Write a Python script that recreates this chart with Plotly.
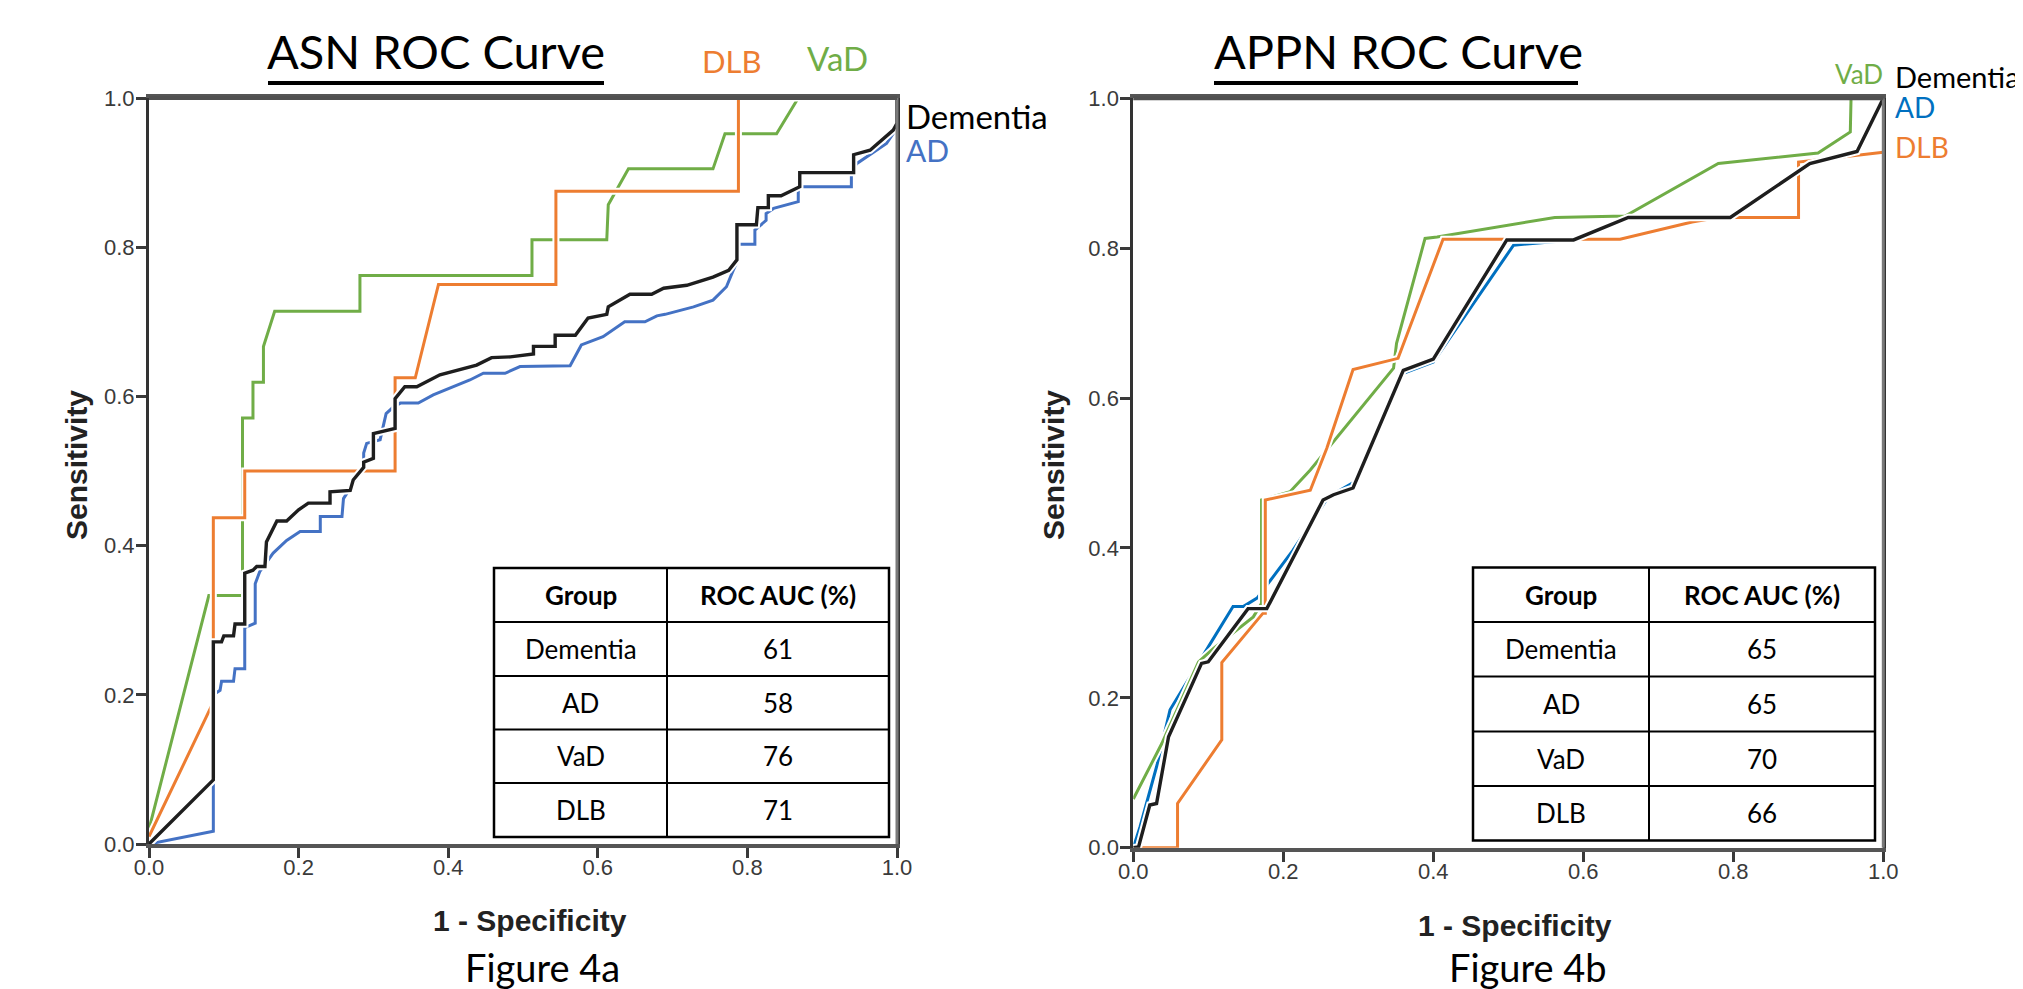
import plotly.graph_objects as go

W, H = 2023, 989
OFF = 8  # page body margin of the browser

# ---------------- data ----------------
tick_vals = [0.0, 0.2, 0.4, 0.6, 0.8, 1.0]
tick_text = ["0.0", "0.2", "0.4", "0.6", "0.8", "1.0"]

# ASN ROC curves (x = 1 - specificity, y = sensitivity)
asn_dementia_x = [0, 0.086, 0.086, 0.097, 0.1, 0.113, 0.115, 0.128, 0.128, 0.139, 0.144, 0.155, 0.157, 0.171,
                  0.184, 0.2, 0.213, 0.242, 0.242, 0.269, 0.273, 0.287, 0.287, 0.3, 0.3, 0.329, 0.329, 0.342,
                  0.358, 0.389, 0.438, 0.458, 0.483, 0.514, 0.514, 0.543, 0.543, 0.57, 0.587, 0.612, 0.614,
                  0.643, 0.672, 0.688, 0.719, 0.754, 0.775, 0.786, 0.786, 0.812, 0.814, 0.828, 0.828, 0.845,
                  0.87, 0.87, 0.942, 0.942, 0.964, 0.995, 1.0, 1.0]
asn_dementia_y = [0, 0.086, 0.271, 0.271, 0.279, 0.279, 0.295, 0.295, 0.363, 0.367, 0.372, 0.372, 0.405, 0.433,
                  0.433, 0.448, 0.457, 0.457, 0.472, 0.474, 0.488, 0.505, 0.512, 0.517, 0.55, 0.557, 0.597, 0.613,
                  0.613, 0.629, 0.642, 0.652, 0.653, 0.657, 0.667, 0.667, 0.682, 0.682, 0.705, 0.71, 0.72,
                  0.737, 0.737, 0.745, 0.749, 0.76, 0.769, 0.783, 0.83, 0.83, 0.853, 0.853, 0.869, 0.869,
                  0.881, 0.9, 0.9, 0.924, 0.93, 0.957, 0.966, 1.0]

asn_ad_x = [0, 0.082, 0.086, 0.086, 0.095, 0.097, 0.113, 0.115, 0.128, 0.128, 0.142, 0.142, 0.148, 0.166, 0.184,
            0.202, 0.229, 0.229, 0.258, 0.26, 0.273, 0.287, 0.287, 0.291, 0.309, 0.317, 0.327, 0.336, 0.36,
            0.38, 0.429, 0.447, 0.476, 0.496, 0.563, 0.578, 0.607, 0.636, 0.663, 0.679, 0.69, 0.728, 0.754,
            0.772, 0.781, 0.786, 0.786, 0.81, 0.81, 0.825, 0.825, 0.835, 0.868, 0.868, 0.939, 0.939, 0.946,
            0.986, 1.0, 1.0]
asn_ad_y = [0, 0.017, 0.017, 0.2, 0.206, 0.218, 0.218, 0.235, 0.235, 0.29, 0.296, 0.349, 0.365, 0.39, 0.407,
            0.419, 0.419, 0.439, 0.439, 0.463, 0.484, 0.505, 0.524, 0.537, 0.542, 0.577, 0.586, 0.591, 0.591,
            0.602, 0.622, 0.631, 0.631, 0.64, 0.641, 0.669, 0.68, 0.7, 0.7, 0.708, 0.71, 0.72, 0.729,
            0.747, 0.769, 0.78, 0.804, 0.804, 0.823, 0.836, 0.845, 0.852, 0.861, 0.881, 0.881, 0.901, 0.912,
            0.939, 0.96, 1.0]

asn_vad_x = [0, 0.08, 0.125, 0.125, 0.139, 0.139, 0.153, 0.153, 0.168, 0.282, 0.282, 0.512, 0.512, 0.612,
             0.614, 0.641, 0.754, 0.770, 0.839, 0.868, 1.0]
asn_vad_y = [0.02, 0.333, 0.333, 0.571, 0.571, 0.619, 0.619, 0.667, 0.714, 0.714, 0.762, 0.762, 0.81, 0.81,
             0.857, 0.905, 0.905, 0.952, 0.952, 1.0, 1.0]

asn_dlb_x = [0, 0.086, 0.086, 0.128, 0.128, 0.329, 0.329, 0.356, 0.387, 0.544, 0.544, 0.788, 0.788, 1.0]
asn_dlb_y = [0.01, 0.19, 0.4375, 0.4375, 0.5, 0.5, 0.625, 0.625, 0.75, 0.75, 0.875, 0.875, 1.0, 1.0]

# APPN ROC curves
appn_dementia_x = [0, 0.007, 0.022, 0.031, 0.047, 0.091, 0.1, 0.153, 0.178, 0.253, 0.267, 0.293, 0.36, 0.4,
                   0.498, 0.587, 0.66, 0.796, 0.902, 0.965, 1.0]
appn_dementia_y = [0, 0.001, 0.057, 0.059, 0.148, 0.246, 0.248, 0.319, 0.319, 0.464, 0.471, 0.48, 0.637, 0.652,
                   0.811, 0.811, 0.841, 0.841, 0.913, 0.929, 1.0]

appn_ad_x = [0, 0.009, 0.031, 0.049, 0.1, 0.133, 0.147, 0.165, 0.213, 0.26, 0.298, 0.36, 0.4, 0.507, 0.587,
             0.66, 0.796, 0.902, 0.965, 1.0]
appn_ad_y = [0, 0.028, 0.108, 0.184, 0.268, 0.322, 0.322, 0.333, 0.397, 0.468, 0.49, 0.633, 0.648, 0.804,
             0.811, 0.841, 0.841, 0.913, 0.929, 1.0]

appn_vad_x = [0, 0.038, 0.087, 0.107, 0.16, 0.171, 0.171, 0.209, 0.236, 0.347, 0.351, 0.389, 0.405, 0.562,
              0.656, 0.78, 0.913, 0.956, 0.957, 1.0]
appn_vad_y = [0.065, 0.139, 0.248, 0.266, 0.308, 0.326, 0.464, 0.475, 0.504, 0.64, 0.673, 0.813, 0.815, 0.841,
              0.843, 0.913, 0.927, 0.955, 1.0, 1.0]

appn_dlb_x = [0, 0.059, 0.059, 0.118, 0.118, 0.173, 0.176, 0.176, 0.236, 0.247, 0.258, 0.293, 0.353, 0.413,
              0.649, 0.745, 0.78, 0.887, 0.887, 1.0]
appn_dlb_y = [0, 0.0, 0.059, 0.144, 0.247, 0.313, 0.313, 0.464, 0.477, 0.504, 0.533, 0.638, 0.653, 0.812,
              0.812, 0.835, 0.841, 0.841, 0.915, 0.928]

# AUC tables
table_groups = ["Dementia", "AD", "VaD", "DLB"]
table_header = ["Group", "ROC AUC (%)"]
asn_auc = [61, 58, 76, 71]
appn_auc = [65, 65, 70, 66]

# ---------------- styling ----------------
C_DEM = "#1e1e1e"
C_AD = "#4472C4"
C_AD2 = "#0070C0"
C_VAD = "#70AD47"
C_DLB = "#ED7D31"
LABEL_FONT = "Lato, 'Open Sans', sans-serif"
AXIS_FONT = "'Liberation Sans', Arial, sans-serif"

FW, FH = W - OFF, H - OFF


def px(X):
    return (X - OFF) / FW


def py(Y):
    return 1 - (Y - OFF) / FH


fig = go.Figure()


def add_curve(x, y, color, xa, ya, width=3.0):
    fig.add_trace(go.Scatter(x=x, y=y, mode="lines", xaxis=xa, yaxis=ya, showlegend=False,
                             hoverinfo="skip", line=dict(color="white", width=width + 4)))
    fig.add_trace(go.Scatter(x=x, y=y, mode="lines", xaxis=xa, yaxis=ya, showlegend=False,
                             line=dict(color=color, width=width)))


add_curve(asn_ad_x, asn_ad_y, C_AD, "x", "y")
add_curve(asn_vad_x, asn_vad_y, C_VAD, "x", "y")
add_curve(asn_dlb_x, asn_dlb_y, C_DLB, "x", "y")
add_curve(asn_dementia_x, asn_dementia_y, C_DEM, "x", "y", 3.4)

add_curve(appn_ad_x, appn_ad_y, C_AD2, "x2", "y2")
add_curve(appn_vad_x, appn_vad_y, C_VAD, "x2", "y2")
add_curve(appn_dlb_x, appn_dlb_y, C_DLB, "x2", "y2")
add_curve(appn_dementia_x, appn_dementia_y, C_DEM, "x2", "y2", 3.4)


def xax(domain, anchor):
    return dict(domain=domain, anchor=anchor, range=[0, 1], showgrid=False, zeroline=False,
                showline=True, linecolor="#555", linewidth=4, mirror=True,
                ticks="outside", ticklen=10, tickwidth=2.5, tickcolor="#3a3a3a",
                tickvals=tick_vals, ticktext=tick_text, automargin=False, ticklabelstandoff=-9,
                tickfont=dict(family=AXIS_FONT, size=22, color="#3a3a3a"), fixedrange=True)


def yax(domain, anchor):
    return dict(domain=domain, anchor=anchor, range=[0, 1], showgrid=False, zeroline=False,
                showline=True, linecolor="#333", linewidth=3, mirror=True,
                ticks="outside", ticklen=10, tickwidth=2.5, tickcolor="#3a3a3a",
                tickvals=tick_vals, ticktext=tick_text, automargin=False, ticklabelstandoff=-3,
                tickfont=dict(family=AXIS_FONT, size=22, color="#3a3a3a"), fixedrange=True)


ann = []
shapes = []


def text(X, Y, s, size, color="black", family=LABEL_FONT, xanchor="center", angle=0):
    ann.append(dict(x=px(X), y=py(Y), xref="paper", yref="paper", text=s, showarrow=False,
                    xanchor=xanchor, yanchor="middle", textangle=angle,
                    font=dict(family=family, size=size, color=color)))


def hline(X0, X1, Y, color="black", width=2):
    shapes.append(dict(type="line", xref="paper", yref="paper", x0=px(X0), x1=px(X1), y0=py(Y), y1=py(Y),
                       line=dict(color=color, width=width), layer="above"))


# titles (underlined)
text(436, 51, "ASN ROC Curve", 47)
text(1398, 51, "APPN ROC Curve", 47)
hline(268, 604, 83, "black", 4)
hline(1214, 1578, 83, "black", 4)

# curve labels
text(732, 61, "DLB", 31, C_DLB)
text(837, 58, "VaD", 33, C_VAD)
text(904, 116, "Dementia", 33, "black", xanchor="left")
text(904, 150, "AD", 30, C_AD, xanchor="left")

text(1833, 74, "VaD", 26, C_VAD, xanchor="left")
text(1893, 77, "Dementia", 29, "black", xanchor="left")
text(1893, 107, "AD", 28, C_AD2, xanchor="left")
text(1893, 147, "DLB", 28, C_DLB, xanchor="left")

# axis titles
text(76, 465, "<b>Sensitivity</b>", 30, "#222", AXIS_FONT, angle=-90)
text(1053, 465, "<b>Sensitivity</b>", 30, "#222", AXIS_FONT, angle=-90)
text(530, 920, "<b>1 - Specificity</b>", 30, "#222", AXIS_FONT)
text(1515, 925, "<b>1 - Specificity</b>", 30, "#222", AXIS_FONT)

# figure captions
text(542, 967, "Figure 4a", 38)
text(1528, 967, "Figure 4b", 38)


def table(xs, ys, auc):
    x0, xm, x1 = xs
    shapes.append(dict(type="rect", xref="paper", yref="paper", x0=px(x0), x1=px(x1), y0=py(ys[-1]),
                       y1=py(ys[0]), fillcolor="white", line=dict(color="black", width=2.5), layer="above"))
    for yy in ys[1:-1]:
        hline(x0, x1, yy)
    shapes.append(dict(type="line", xref="paper", yref="paper", x0=px(xm), x1=px(xm), y0=py(ys[-1]),
                       y1=py(ys[0]), line=dict(color="black", width=2), layer="above"))
    c1 = (x0 + xm) / 2
    c2 = (xm + x1) / 2
    text(c1, (ys[0] + ys[1]) / 2, "<b>%s</b>" % table_header[0], 26)
    text(c2, (ys[0] + ys[1]) / 2, "<b>%s</b>" % table_header[1], 26)
    for i, g in enumerate(table_groups):
        yc = (ys[i + 1] + ys[i + 2]) / 2
        text(c1, yc, g, 26)
        text(c2, yc, str(auc[i]), 26)


table([494, 667, 889], [568, 622, 676, 729.5, 783, 837], asn_auc)
table([1473, 1649, 1875], [567.5, 622, 676.5, 731.5, 786, 840.5], appn_auc)

# frame edges drawn above the curves (top and right)
for xa, ya in (("x", "y"), ("x2", "y2")):
    shapes.append(dict(type="line", xref=xa + " domain", yref=ya + " domain", x0=1, x1=1, y0=0, y1=1,
                       line=dict(color="#7a7a7a", width=3), layer="above"))
    shapes.append(dict(type="line", xref=xa + " domain", yref=ya + " domain", x0=0, x1=1, y0=1, y1=1,
                       line=dict(color="#505050", width=4), layer="above"))

fig.update_layout(
    width=FW, height=FH, margin=dict(l=0, r=0, t=0, b=0, autoexpand=False),
    paper_bgcolor="white", plot_bgcolor="white",
    xaxis=xax([px(149), px(897)], "y"),
    yaxis=yax([py(844), py(98)], "x"),
    xaxis2=xax([px(1133.3), px(1883.3)], "y2"),
    yaxis2=yax([py(847.7), py(98.3)], "x2"),
    annotations=ann, shapes=shapes,
)

fig.write_html("out.html")
